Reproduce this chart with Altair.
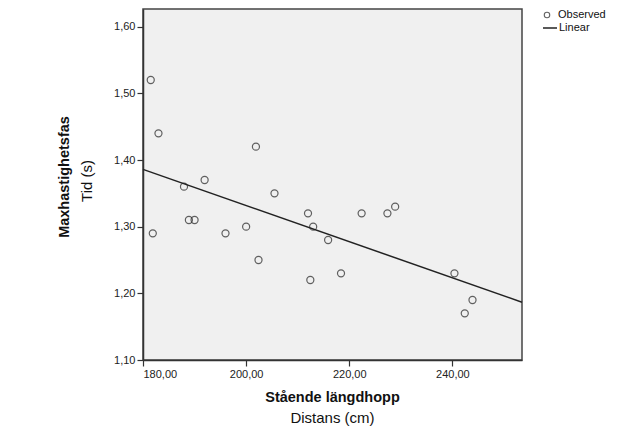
import altair as alt
import pandas as pd

distans = [181.5, 183.0, 201.9, 191.95, 187.95, 205.5, 181.9, 188.9, 190.0, 196.0,
           200.0, 202.4, 212.0, 212.45, 213.0, 215.9, 218.4, 222.4, 227.4, 228.9,
           240.4, 242.4, 243.9]
tid = [1.52, 1.44, 1.42, 1.37, 1.36, 1.35, 1.29, 1.31, 1.31, 1.29,
       1.30, 1.25, 1.32, 1.22, 1.30, 1.28, 1.23, 1.32, 1.32, 1.33,
       1.23, 1.17, 1.19]
x_ticks = [180, 200, 220, 240]
y_ticks = [1.10, 1.20, 1.30, 1.40, 1.50, 1.60]
x_title_bold = "Stående längdhopp"
x_title = "Distans (cm)"
y_title_bold = "Maxhastighetsfas"
y_title = "Tid (s)"
legend_labels = ["Observed", "Linear"]

FONT = "Liberation Sans"
W, H = 379, 351
df = pd.DataFrame({"x": distans, "y": tid})

xs = alt.Scale(domain=[180, 253.5], nice=False, zero=False)
ys = alt.Scale(domain=[1.10, 1.6265], nice=False, zero=False)

lab = "replace(format(datum.value, '.2f'), '.', ',')"
xaxis = alt.Axis(values=x_ticks, labelExpr=lab, title=None, grid=False, tickSize=6,
                 labelPadding=2, domainColor="#333", tickColor="#333", labelColor="#222",
                 labelFont=FONT, labelFontSize=11, domainWidth=1.5, tickWidth=1.2)
yaxis = alt.Axis(values=y_ticks, labelExpr=lab, title=None, grid=False, tickSize=6,
                 labelPadding=2, domainColor="#333", tickColor="#333", labelColor="#222",
                 labelFont=FONT, labelFontSize=11, domainWidth=1.5, tickWidth=1.2)

base = alt.Chart(df)
pts = base.mark_point(filled=False, size=50, color="#222", strokeWidth=1.2).encode(
    x=alt.X("x:Q", scale=xs, axis=xaxis),
    y=alt.Y("y:Q", scale=ys, axis=yaxis),
)
fit = base.transform_regression("x", "y", extent=[180, 253.5]).mark_line(
    color="#222", strokeWidth=1.5).encode(
    x=alt.X("x:Q", scale=xs), y=alt.Y("y:Q", scale=ys))

def txt(s, x, y, size=14, weight="normal", angle=0, align="center"):
    return alt.Chart(pd.DataFrame({"t": [s]})).mark_text(
        font=FONT, fontSize=size, fontWeight=weight, angle=angle, align=align,
        baseline="middle", color="#111").encode(
        text="t:N", x=alt.value(x), y=alt.value(y))

t1 = txt(x_title_bold, W / 2, 398 - 9, 14.5, "bold")
t2 = txt(x_title, W / 2, 418 - 9, 15)
t3 = txt(y_title_bold, 65 - 143, 177 - 9, 14.5, "bold", 270)
t4 = txt(y_title, 87 - 143, 181 - 9, 15, "normal", 270)

leg_pt = alt.Chart(pd.DataFrame({"t": [legend_labels[0]]})).mark_point(
    filled=False, size=30, color="#222", strokeWidth=1.1).encode(
    x=alt.value(404), y=alt.value(6))
leg_ln = alt.Chart(pd.DataFrame({"t": [legend_labels[1]]})).mark_rule(
    color="#222", strokeWidth=1.5).encode(
    x=alt.value(400), x2=alt.value(414), y=alt.value(19))
l1 = txt(legend_labels[0], 415, 6, 11, align="left")
l2 = txt(legend_labels[1], 416, 19, 11, align="left")

chart = alt.layer(pts, fit, t1, t2, t3, t4, leg_pt, leg_ln, l1, l2).properties(
    width=W, height=H,
    autosize=alt.AutoSizeParams(type="none"),
    padding={"left": 143, "top": 9, "right": 627 - 143 - W, "bottom": 430 - 9 - H},
    background="white",
).configure_view(fill="#f0f0f0", stroke="#444", strokeWidth=1.5)

chart.save("out.html", embed_options={"renderer": "svg", "actions": False})
